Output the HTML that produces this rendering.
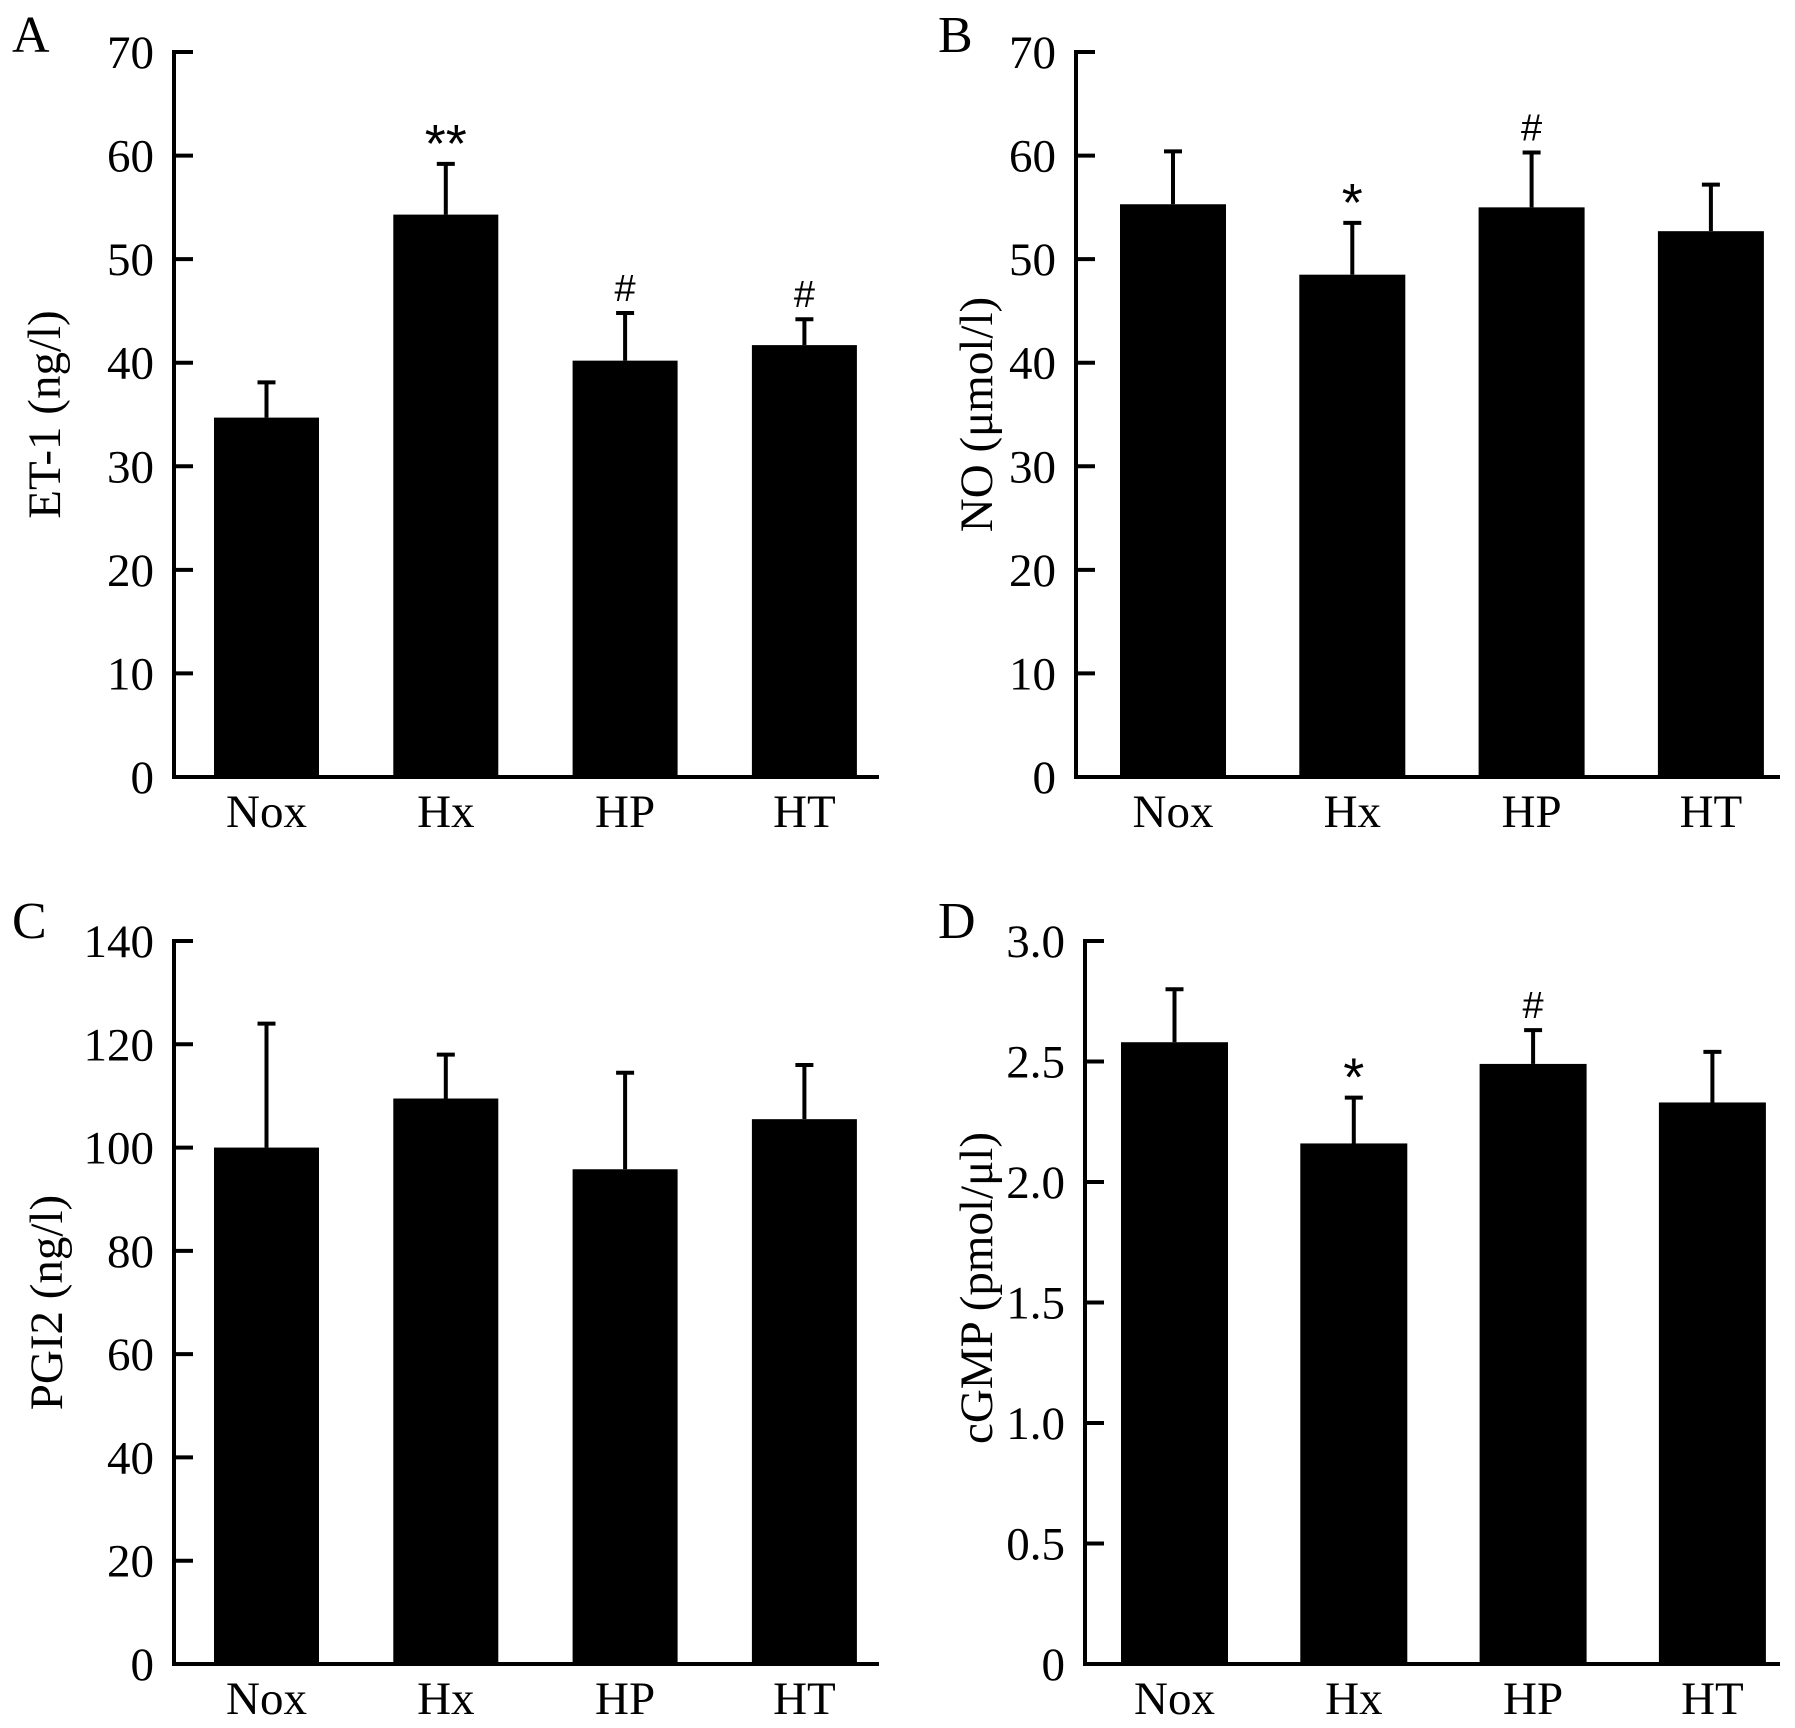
<!DOCTYPE html>
<html><head><meta charset="utf-8"><style>
html,body{margin:0;padding:0;background:#fff;}
svg{display:block;font-family:"Liberation Serif",serif;}
</style></head><body>
<svg id="fig" width="1795" height="1728" viewBox="0 0 1795 1728" xmlns="http://www.w3.org/2000/svg"></svg>
<script>
const categories = ["Nox","Hx","HP","HT"];
const etMeans = [34.7, 54.3, 40.2, 41.7];
const etErr = [38.1, 59.2, 44.8, 44.2];
const etMarks = ["", "**", "#", "#"];
const etTicks = [0,10,20,30,40,50,60,70];
const noMeans = [55.3, 48.5, 55.0, 52.7];
const noErr = [60.4, 53.5, 60.3, 57.2];
const noMarks = ["", "*", "#", ""];
const noTicks = [0,10,20,30,40,50,60,70];
const pgiMeans = [100, 109.5, 95.8, 105.5];
const pgiErr = [124, 118, 114.5, 116];
const pgiMarks = ["", "", "", ""];
const pgiTicks = [0,20,40,60,80,100,120,140];
const cgmpMeans = [2.58, 2.16, 2.49, 2.33];
const cgmpErr = [2.80, 2.35, 2.63, 2.54];
const cgmpMarks = ["", "*", "#", ""];
const cgmpTicks = [0,0.5,1.0,1.5,2.0,2.5,3.0];
const cgmpTickLabels = ["0","0.5","1.0","1.5","2.0","2.5","3.0"];

const NS = "http://www.w3.org/2000/svg";
const svg = document.getElementById("fig");
function mk(tag, attrs, parent, text){
  const e = document.createElementNS(NS, tag);
  for (const k in attrs) e.setAttribute(k, attrs[k]);
  if (text !== undefined) e.textContent = text;
  (parent||svg).appendChild(e);
  return e;
}
function panel(cfg){
  const g = mk("g", {}, svg);
  
  
  const ax = cfg.ax, top = cfg.top, bot = cfg.bot, xEnd = cfg.xEnd;
  const maxV = cfg.ticks[cfg.ticks.length-1];
  const y = v => bot - (v / maxV) * (bot - top);
  const x0 = cfg.bar0, step = cfg.step, bw = cfg.bw;
  const xc = i => x0 + i*step + bw/2;
  categories.forEach((c,i)=>{
    const bx = x0 + i*step;
    const r = mk("rect", {x:bx, y:y(cfg.means[i]), width:bw, height:bot - y(cfg.means[i]), fill:"#000"}, g);
    
    
    const el = mk("line", {x1:xc(i), x2:xc(i), y1:y(cfg.means[i]), y2:y(cfg.err[i]), stroke:"#000","stroke-width":4}, g);
    
    
    const cap = mk("line", {x1:xc(i)-9, x2:xc(i)+9, y1:y(cfg.err[i]), y2:y(cfg.err[i]), stroke:"#000","stroke-width":4}, g);
    
    
    if (cfg.marks[i]) {
      const isStar = cfg.marks[i].indexOf("*") >= 0;
      const t = mk("text", {x:xc(i), y:y(cfg.err[i]) - (isStar?2:12), "text-anchor":"middle", "font-size": isStar?54:38, "font-family":"Liberation Sans, sans-serif", fill:"#000"}, g, cfg.marks[i]);
      
      
    }
    const lab = mk("text", {x:xc(i), y:bot+50, "text-anchor":"middle", "font-size":47, fill:"#000"}, g, c);
    
    
  });
  const yax = mk("line", {x1:ax, x2:ax, y1:top-2, y2:bot+2, stroke:"#000","stroke-width":4}, g);
  
  
  const xax = mk("line", {x1:ax-2, x2:xEnd, y1:bot, y2:bot, stroke:"#000","stroke-width":4}, g);
  
  
  cfg.ticks.forEach((t,k)=>{
    const tk = mk("line", {x1:ax, x2:ax+19, y1:y(t), y2:y(t), stroke:"#000","stroke-width":4}, g);
    
    
    const tl = mk("text", {x:ax-20, y:y(t)+16, "text-anchor":"end", "font-size":47, fill:"#000"}, g, cfg.tickLabels ? cfg.tickLabels[k] : String(t));
    
    
  });
  const ty = cfg.titleY || (top+bot)/2;
  const yt = mk("text", {x:cfg.titleX, y:ty, "text-anchor":"middle", "font-size":47, fill:"#000", transform:"rotate(-90 "+cfg.titleX+" "+ty+")"}, g, cfg.title);
  
  
  const pl = mk("text", {x:cfg.letterX, y:cfg.letterY, "font-size":52, fill:"#000"}, g, cfg.letter);
  
  
}
panel({name:"panel-a-et1", ax:174, top:52, bot:777, xEnd:879, bar0:214, step:179.3, bw:105, ticks:etTicks, means:etMeans, err:etErr, marks:etMarks, title:"ET-1 (ng/l)", titleX:60, letter:"A", letterX:12, letterY:52});
panel({name:"panel-b-no", ax:1076, top:52, bot:777, xEnd:1780, bar0:1120, step:179.3, bw:106, ticks:noTicks, means:noMeans, err:noErr, marks:noMarks, title:"NO (μmol/l)", titleX:992, letter:"B", letterX:938, letterY:52});
panel({name:"panel-c-pgi2", ax:174, top:941, bot:1664, xEnd:879, bar0:214, step:179.3, bw:105, ticks:pgiTicks, means:pgiMeans, err:pgiErr, marks:pgiMarks, title:"PGI2 (ng/l)", titleX:62, letter:"C", letterX:12, letterY:938});
panel({name:"panel-d-cgmp", ax:1085, top:941, bot:1664, xEnd:1780, bar0:1121, step:179.3, bw:107, ticks:cgmpTicks, tickLabels:cgmpTickLabels, means:cgmpMeans, err:cgmpErr, marks:cgmpMarks, title:"cGMP (pmol/μl)", titleX:992, titleY:1288, letter:"D", letterX:938, letterY:938});
</script>
</body></html>
